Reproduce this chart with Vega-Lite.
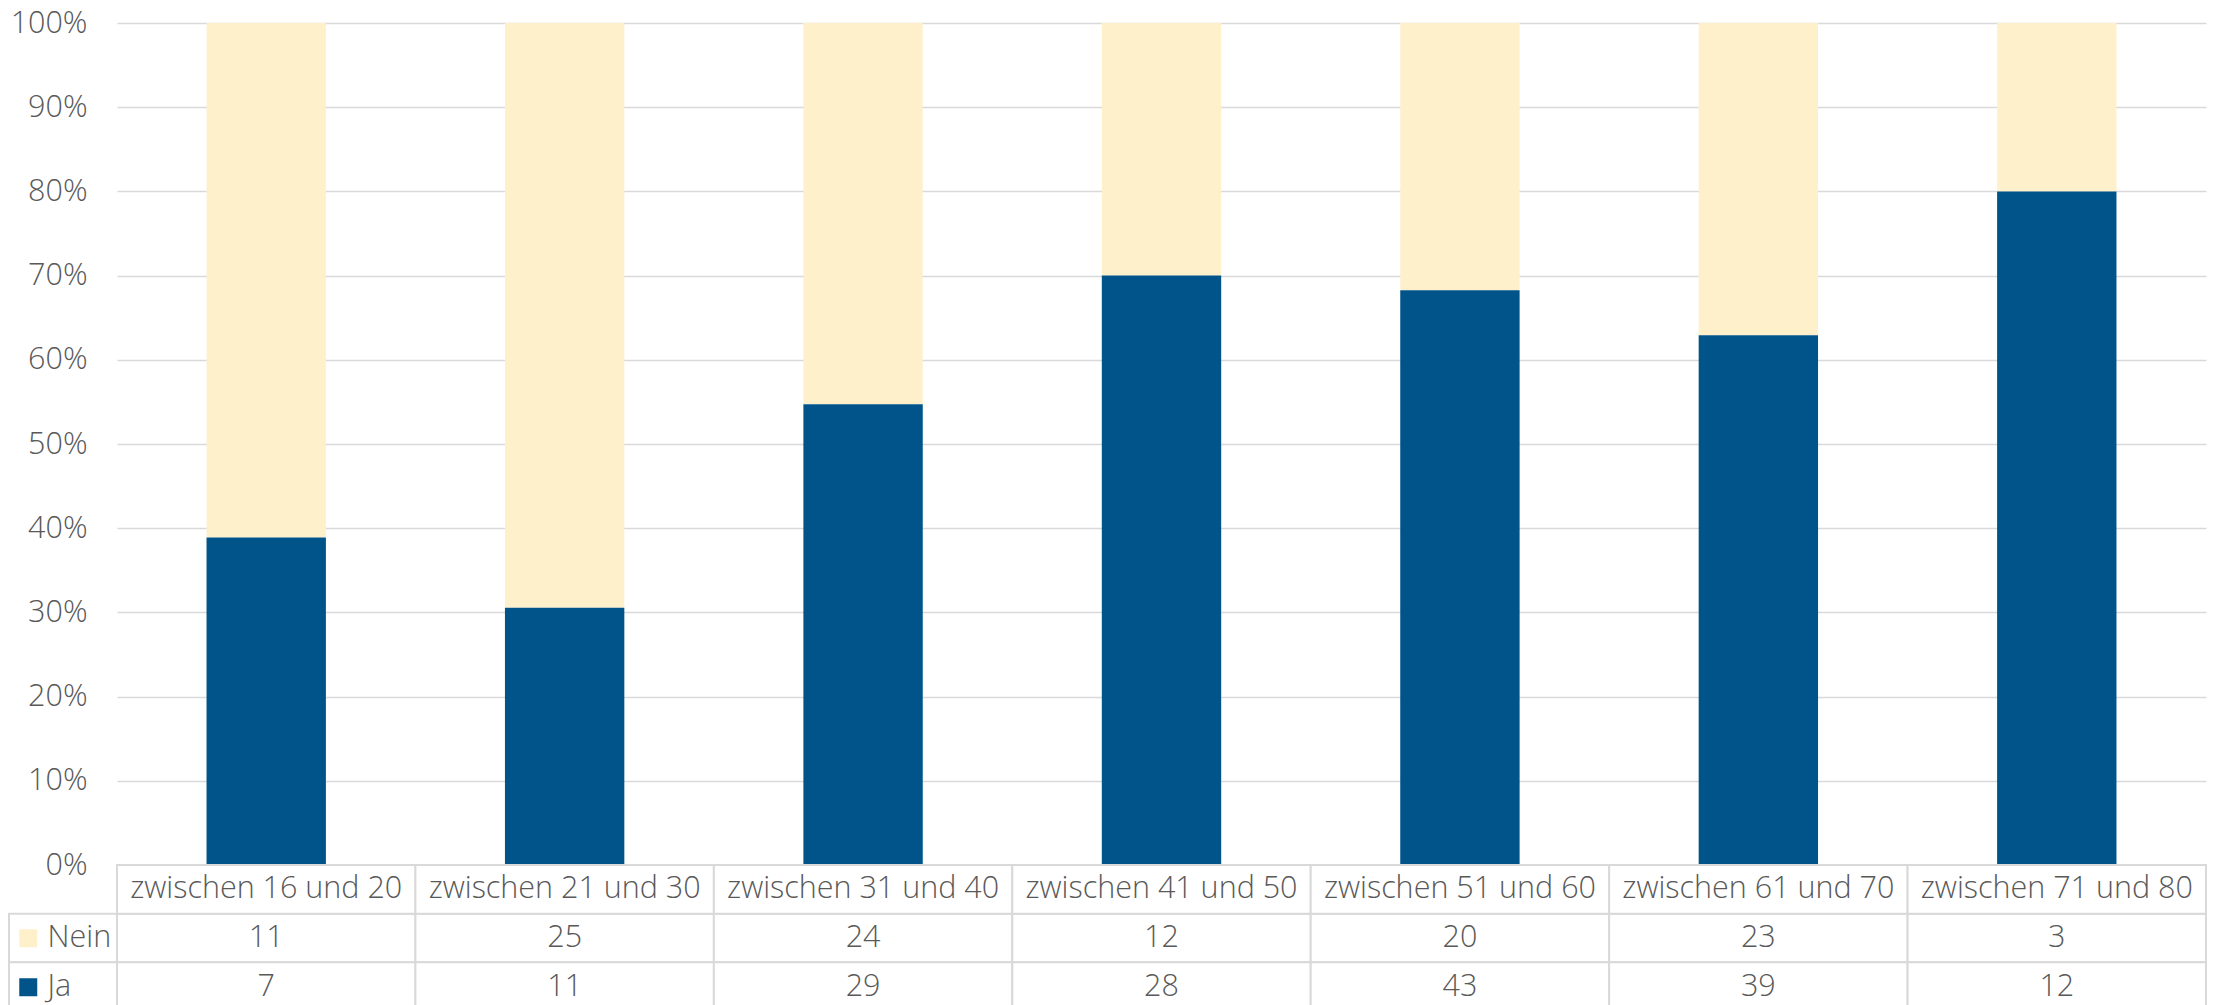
{
  "$schema": "https://vega.github.io/schema/vega-lite/v6.json",
  "background": "white",
  "padding": {"left": 8, "top": 8, "right": 0, "bottom": 0},
  "config": {
    "view": {"stroke": null},
    "font": "Open Sans",
    "text": {"font": "Open Sans"}
  },
  "data": {
    "values": [
      {"cat": "zwischen 16 und 20", "answer": "Nein", "count": 11},
      {"cat": "zwischen 16 und 20", "answer": "Ja", "count": 7},
      {"cat": "zwischen 21 und 30", "answer": "Nein", "count": 25},
      {"cat": "zwischen 21 und 30", "answer": "Ja", "count": 11},
      {"cat": "zwischen 31 und 40", "answer": "Nein", "count": 24},
      {"cat": "zwischen 31 und 40", "answer": "Ja", "count": 29},
      {"cat": "zwischen 41 und 50", "answer": "Nein", "count": 12},
      {"cat": "zwischen 41 und 50", "answer": "Ja", "count": 28},
      {"cat": "zwischen 51 und 60", "answer": "Nein", "count": 20},
      {"cat": "zwischen 51 und 60", "answer": "Ja", "count": 43},
      {"cat": "zwischen 61 und 70", "answer": "Nein", "count": 23},
      {"cat": "zwischen 61 und 70", "answer": "Ja", "count": 39},
      {"cat": "zwischen 71 und 80", "answer": "Nein", "count": 3},
      {"cat": "zwischen 71 und 80", "answer": "Ja", "count": 12}
    ]
  },
  "columns": 2,
  "spacing": 0,
  "bounds": "flush",
  "concat": [
    {
      "width": 108,
      "height": 842,
      "data": {"values": []},
      "mark": {"type": "text"},
      "encoding": {}
    },
    {
      "width": 2089,
      "height": 842,
      "mark": {"type": "bar"},
      "encoding": {
        "x": {"field": "cat", "type": "nominal", "sort": null, "scale": {"paddingInner": 0.6, "paddingOuter": 0.3}, "axis": null},
        "y": {
          "field": "count", "type": "quantitative", "stack": "normalize",
          "scale": {"domain": [0, 1]},
          "axis": {
            "values": [0, 0.1, 0.2, 0.3, 0.4, 0.5, 0.6, 0.7, 0.8, 0.9, 1],
            "format": ".0%", "title": null, "domain": false, "ticks": false,
            "grid": true, "gridColor": "#D9D9D9", "gridWidth": 1.5,
            "labelFontSize": 30.5, "labelColor": "#595959", "labelPadding": 30,
            "labelFont": "Open Sans", "labelFontWeight": 300
          }
        },
        "color": {
          "field": "answer", "type": "nominal",
          "scale": {"domain": ["Nein", "Ja"], "range": ["#FFF0CC", "#00548A"]},
          "legend": {
            "orient": "none", "legendX": 4, "legendY": 900, "direction": "vertical",
            "title": null, "symbolType": "square", "symbolSize": 324, "symbolStrokeWidth": 0,
            "labelFontSize": 30.5, "labelColor": "#595959", "labelFont": "Open Sans", "labelFontWeight": 300,
            "labelOffset": 4, "rowPadding": 18, "padding": 0
          }
        },
        "order": {"field": "answer", "sort": "ascending"}
      }
    },
    {
      "width": 108,
      "height": 146,
      "transform": [{"aggregate": [{"op": "count", "as": "n"}], "groupby": ["answer"]}],
      "mark": {"type": "rect", "fill": "white", "stroke": "#D9D9D9", "strokeWidth": 2},
      "encoding": {
        "y": {"field": "answer", "type": "nominal", "scale": {"domain": ["header", "Nein", "Ja"], "paddingInner": 0, "paddingOuter": 0}, "axis": null}
      }
    },
    {
      "width": 2089,
      "height": 146,
      "encoding": {
        "x": {"field": "cat", "type": "nominal", "sort": null, "scale": {"paddingInner": 0, "paddingOuter": 0}, "axis": null}
      },
      "layer": [
        {
          "mark": {"type": "rect", "fill": "white", "stroke": "#D9D9D9", "strokeWidth": 2},
          "encoding": {
            "y": {"field": "answer", "type": "nominal", "scale": {"domain": ["header", "Nein", "Ja"], "paddingInner": 0, "paddingOuter": 0}, "axis": null}
          }
        },
        {
          "transform": [{"filter": "datum.answer === 'Ja'"}],
          "mark": {"type": "rect", "fill": "white", "stroke": "#D9D9D9", "strokeWidth": 2},
          "encoding": {"y": {"datum": "header", "type": "nominal"}}
        },
        {
          "mark": {"type": "text", "fontSize": 30.5, "color": "#595959", "fontWeight": 300},
          "encoding": {
            "y": {"field": "answer", "type": "nominal"},
            "text": {"field": "count", "type": "quantitative"}
          }
        },
        {
          "transform": [{"filter": "datum.answer === 'Ja'"}],
          "mark": {"type": "text", "fontSize": 30.5, "color": "#595959", "fontWeight": 300},
          "encoding": {
            "y": {"datum": "header", "type": "nominal"},
            "text": {"field": "cat", "type": "nominal"}
          }
        }
      ]
    }
  ]
}
